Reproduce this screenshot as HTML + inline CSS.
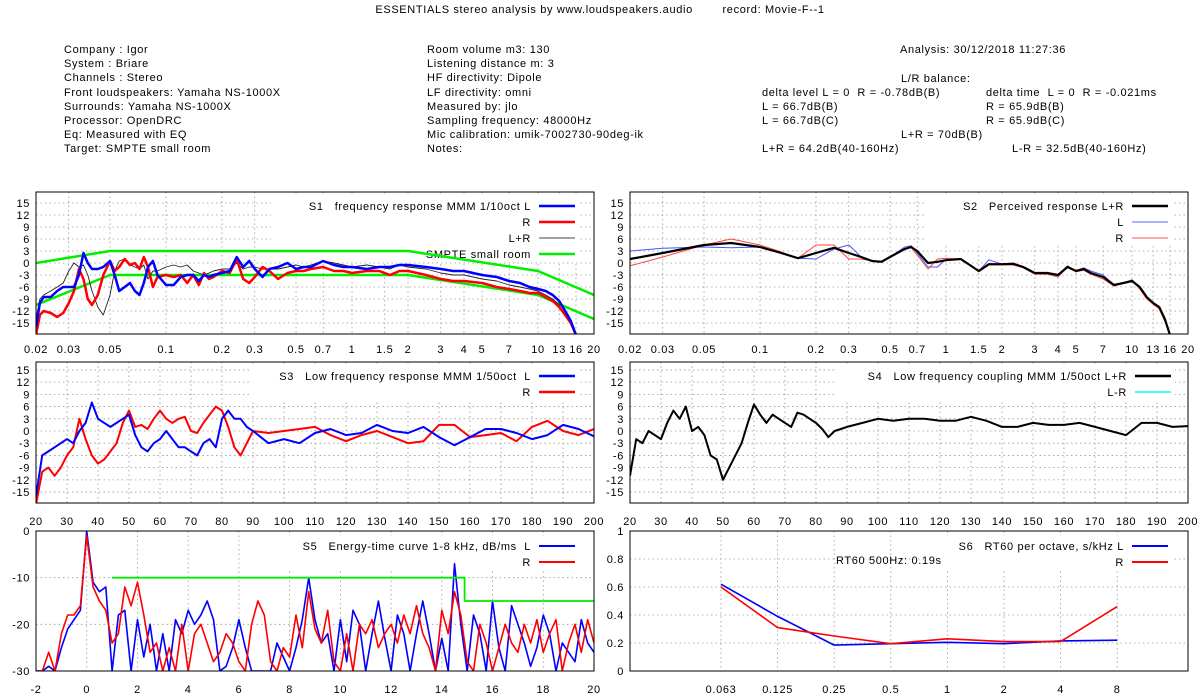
<!DOCTYPE html>
<html><head><meta charset="utf-8"><style>
html,body{margin:0;padding:0;background:#fff}
svg{display:block;font-family:"Liberation Sans",sans-serif}
text{font-size:11px;fill:#000;white-space:pre;letter-spacing:0.65px}
</style></head><body>
<svg id="c" width="1200" height="700" viewBox="0 0 1200 700">
<g>
<text x="600" y="13" text-anchor="middle">ESSENTIALS stereo analysis by www.loudspeakers.audio        record: Movie-F--1</text>
<text x="64" y="53">Company : Igor</text>
<text x="64" y="67">System : Briare</text>
<text x="64" y="81">Channels : Stereo</text>
<text x="64" y="96">Front loudspeakers: Yamaha NS-1000X</text>
<text x="64" y="110">Surrounds: Yamaha NS-1000X</text>
<text x="64" y="124">Processor: OpenDRC</text>
<text x="64" y="138">Eq: Measured with EQ</text>
<text x="64" y="152">Target: SMPTE small room</text>
<text x="427" y="53">Room volume m3: 130</text>
<text x="427" y="67">Listening distance m: 3</text>
<text x="427" y="81">HF directivity: Dipole</text>
<text x="427" y="96">LF directivity: omni</text>
<text x="427" y="110">Measured by: jlo</text>
<text x="427" y="124">Sampling frequency: 48000Hz</text>
<text x="427" y="138">Mic calibration: umik-7002730-90deg-ik</text>
<text x="427" y="152">Notes:</text>
<text x="900" y="53">Analysis: 30/12/2018 11:27:36</text>
<text x="901" y="82">L/R balance:</text>
<text x="762" y="96">delta level L = 0  R = -0.78dB(B)</text>
<text x="986" y="96">delta time  L = 0  R = -0.021ms</text>
<text x="762" y="110">L = 66.7dB(B)</text>
<text x="986" y="110">R = 65.9dB(B)</text>
<text x="762" y="124">L = 66.7dB(C)</text>
<text x="986" y="124">R = 65.9dB(C)</text>
<text x="901" y="138">L+R = 70dB(B)</text>
<text x="762" y="152">L+R = 64.2dB(40-160Hz)</text>
<text x="1012" y="152">L-R = 32.5dB(40-160Hz)</text>
</g>
</svg>
<script>
// ---------- data ----------
const s1Freq=[0.02,0.021,0.022,0.024,0.026,0.028,0.03,0.032,0.034,0.036,0.038,0.04,0.043,0.046,0.05,0.053,0.056,0.06,0.064,0.068,0.072,0.076,0.08,0.085,0.09,0.1,0.11,0.12,0.13,0.14,0.15,0.16,0.17,0.18,0.2,0.22,0.24,0.26,0.28,0.3,0.33,0.36,0.4,0.45,0.5,0.55,0.6,0.7,0.8,0.9,1,1.2,1.4,1.6,1.8,2,2.5,3,3.5,4,5,6,7,8,9,10,11,12,13,14,15,16];
const s1L=[-16,-10,-8.5,-8.5,-7,-6,-6,-6,-3,2.5,0,-1.5,-1.5,-1,0.5,-3,-7,-6,-5,-7,-8,-5,-1,0.5,-3,-5.5,-5.5,-3.5,-3,-3,-4.5,-3,-3.5,-3,-2.5,-2,1.5,-1,0.5,-1.5,-3.5,-1.5,-1,0,-1.5,-1,-1,0.5,-0.5,-1,-1,-1.5,-1,-1,-0.5,-0.5,-1,-1.5,-2,-2,-3,-3.5,-4.5,-5,-6,-6.5,-7,-8,-9.5,-12,-14.5,-18];
const s1R=[-18,-13,-12,-12.5,-13.5,-12.5,-10,-7,-1.5,-4,-9,-10.5,-8,-3,0.5,-2,-1,1,-0.5,0,-1.5,1.5,-1,-6,-3.5,-3,-3.5,-3,-5,-3,-5.5,-2.5,-4,-3.5,-2,-2.5,1,-4,-5,-3.5,-1,-2,-4,-2.5,-2,-2,-1.5,-1,-2,-2,-2.5,-2,-2,-3,-2,-2,-3,-4,-4.5,-4.5,-5,-6,-6.5,-7,-7.5,-7.5,-8.5,-9.5,-11,-13,-15,-18];
const s1LR=[-14,-9,-8,-7,-6,-5,-2,0,-1,-0.5,-3,-7,-11,-13,-8,-2,0.5,1,-0.5,-1,-1.5,-0.5,-4,-2,-2,-1,-0.5,-1,-0.5,-2,-2.5,-3,-2.5,-2,-1.5,-1.5,0,-1.5,-1,-1,-1.5,-1.5,-1.5,-1,-0.5,-1,-0.5,0.5,0,-0.5,-1,-0.5,-1,-1.5,-0.5,-1,-1.5,-2.5,-3,-3,-4,-4.5,-5.5,-6,-6.5,-7,-8,-9,-10.5,-13,-15,-18];
const smpteFreq=[0.02,0.05,2,10,20];
const smpteUpper=[0,3,3,-2,-8];
const smpteLower=[-10.5,-3,-3,-8,-14];
const s2Freq=[0.02,0.03,0.05,0.07,0.1,0.13,0.16,0.2,0.25,0.3,0.35,0.4,0.45,0.5,0.6,0.65,0.7,0.8,0.9,1,1.2,1.5,1.7,2,2.3,2.6,3,3.5,4,4.5,5,5.5,6,7,8,9,10,11,12,13,14,15,16];
const s2LR=[1,2.5,4.5,5,4,2.5,1.2,2.5,3.8,2.5,1.5,0.5,0.3,1.5,3.5,4,3,0,0.3,0.7,1,-2,-0.3,-0.3,-0.2,-1,-2.5,-2.5,-3,-1,-2,-1.5,-2.5,-3.5,-5.5,-5,-4.5,-6,-8.5,-10,-11,-14,-18];
const s2L=[3,3.7,4,3.8,4,2.5,1.2,1,3.5,4.5,1.5,0.5,0.3,1.5,4,4.3,2.5,-1,-1,1,1,-2,0.8,-0.3,0,-1,-2.5,-2.5,-3,-0.7,-2,-1.2,-2,-3,-5.5,-5,-4.2,-6,-8.5,-10,-11,-14,-18];
const s2R=[-0.7,1.5,4.5,6,4.5,2.8,1.2,4.5,4.5,1,1,0.5,0.5,1.5,3.5,3.8,2,-1.5,1,1.2,1,-2.2,-0.5,-0.5,-0.5,-1.2,-2.8,-2.8,-3.5,-1,-2.2,-1.8,-2.8,-4,-5.8,-5,-4.3,-6.5,-9,-10.3,-11.5,-14.5,-18];
const lfFreq=[20,22,24,26,28,30,32,34,36,38,40,42,44,46,48,50,52,54,56,58,60,62,64,66,68,70,72,74,76,78,80,82,84,86,88,90,95,100,105,110,115,120,125,130,135,140,145,150,155,160,165,170,175,180,185,190,195,200];
const s3L=[-16,-6,-5,-4,-3,-2,-3,0,2,7,3,2,1,2,3,4,-1,-4,-5,-3,-2,0,-2,-4,-4,-5,-6,-3,-2,-4,3,5,3,3,1,0,-3,-2,-3,-0.5,0.5,-1,-0.5,1.5,0,-0.5,1,-1.5,-3.5,-1.5,0.5,0.5,-0.5,-2,-1,1.5,0.5,-1.3];
const s3R=[-18,-10,-9,-11,-9,-6,-4,3,-2,-6,-8,-7,-5,-3,2,5,1,1.5,0.5,3,5,3,2,3,3.5,0,-0.5,2,4,6,5,1,-4,-6,-3,0,-0.5,0,0.5,1,-1,-2.5,-1,0,-1.5,-3,-2.5,1.5,1.5,-1.5,-1,-0.5,-2.5,1,2.5,0,-1,0.5];
const s4LR=[-11,-2,-3,0,-1,-2,2,5,3,6,0,1,-1,-6,-7,-12,-9,-6,-3,2,6.5,4,2,4,3,2,1,4.5,4,3,2,0.5,-1.5,0,0.5,1,2,3,2.5,3,3,2.5,2.5,3.5,2.5,1,1,2,1.5,1.5,2,1,0,-1,2,2,1,1.2];
const etcTime=[-2,-1.75,-1.5,-1.25,-1,-0.75,-0.5,-0.25,0,0.25,0.5,0.75,1,1.25,1.5,1.75,2,2.25,2.5,2.75,3,3.25,3.5,3.75,4,4.25,4.5,4.75,5,5.25,5.5,5.75,6,6.25,6.5,6.75,7,7.25,7.5,7.75,8,8.25,8.5,8.75,9,9.25,9.5,9.75,10,10.25,10.5,10.75,11,11.25,11.5,11.75,12,12.25,12.5,12.75,13,13.25,13.5,13.75,14,14.25,14.5,14.75,15,15.25,15.5,15.75,16,16.25,16.5,16.75,17,17.25,17.5,17.75,18,18.25,18.5,18.75,19,19.25,19.5,19.75,20];
const etcL=[-30,-30,-29,-30,-25,-21,-19,-17,0,-11,-13,-12,-30,-18,-17,-30,-19,-27,-20,-30,-22,-30,-19,-22,-17,-20,-18,-15,-19,-30,-29,-25,-19,-25,-30,-30,-30,-30,-24,-27,-30,-25,-19,-10,-19,-24,-22,-30,-19,-28,-17,-20,-30,-22,-15,-23,-30,-18,-22,-30,-22,-15,-22,-30,-23,-30,-7,-20,-30,-18,-22,-30,-15,-25,-30,-16,-20,-24,-29,-25,-18,-22,-30,-24,-26,-28,-19,-24,-26];
const etcR=[-30,-30,-26,-30,-22,-18,-18,-16,-1,-12,-15,-17,-24,-22,-12,-16,-11,-18,-26,-24,-30,-25,-30,-20,-30,-22,-20,-24,-28,-26,-22,-24,-28,-30,-20,-15,-18,-28,-30,-25,-27,-18,-25,-13,-21,-24,-17,-28,-30,-22,-30,-20,-22,-19,-25,-22,-20,-24,-18,-22,-16,-22,-25,-30,-17,-22,-13,-18,-28,-30,-20,-24,-30,-25,-20,-24,-26,-20,-24,-19,-26,-22,-19,-30,-24,-20,-26,-19,-24];
const etcTargetTime=[1,14.9,14.9,20];
const etcTargetDb=[-10,-10,-15,-15];
const rtBands=["0.063","0.125","0.25","0.5","1","2","4","8"];
const rtL=[0.62,0.39,0.185,0.195,0.205,0.195,0.215,0.22];
const rtR=[0.6,0.31,0.25,0.195,0.23,0.21,0.21,0.46];
const logTicks=[0.02,0.03,0.05,0.1,0.2,0.3,0.5,0.7,1,1.5,2,3,4,5,7,10,13,16,20];
const dbTicks=[15,12,9,6,3,0,-3,-6,-9,-12,-15];
const lfTicks=[20,30,40,50,60,70,80,90,100,110,120,130,140,150,160,170,180,190,200];
const etcTicksX=[-2,0,2,4,6,8,10,12,14,16,18,20];
const etcTicksY=[0,-10,-20,-30];
const rtTicksY=[0,0.2,0.4,0.6,0.8,1];

// ---------- helpers ----------
const NS="http://www.w3.org/2000/svg";
const svg=document.getElementById('c');
function mk(tag,attrs,parent){const e=document.createElementNS(NS,tag);for(const k in attrs)e.setAttribute(k,attrs[k]);(parent||svg).appendChild(e);return e;}
let clipId=0;
function panel(name,x0,x1,y0,y1){
  const g=mk('g',{});
  
  
  const id='cp'+(clipId++);
  const cp=mk('clipPath',{id:id},g);mk('rect',{x:x0,y:y0,width:x1-x0,height:y1-y0},cp);
  return {g,x0,x1,y0,y1,clip:'url(#'+id+')'};
}
function gridV(p,x){const l=mk('line',{x1:x,x2:x,y1:p.y0,y2:p.y1,stroke:'#999','stroke-width':0.8,'stroke-dasharray':'1.5,3'},p.g);}
function gridH(p,y){const l=mk('line',{x1:p.x0,x2:p.x1,y1:y,y2:y,stroke:'#999','stroke-width':0.8,'stroke-dasharray':'1.5,3'},p.g);}
function label(p,x,y,txt,anchor,name){const t=mk('text',{x:x,y:y,'text-anchor':anchor},p.g);t.textContent=txt;return t;}
function border(p){const r=mk('rect',{x:p.x0,y:p.y0,width:p.x1-p.x0,height:p.y1-p.y0,fill:'none',stroke:'#000','stroke-width':1},p.g);}
function series(p,xs,ys,fx,fy,color,w,name){
  const pts=xs.map((x,i)=>fx(x).toFixed(1)+','+fy(ys[i]).toFixed(1)).join(' ');
  const l=mk('polyline',{points:pts,fill:'none',stroke:color,'stroke-width':w,'stroke-linejoin':'round','clip-path':p.clip},p.g);
  
  
}
function legend(p,rows,rightX,y0,w){
  const bg=mk('rect',{x:rightX-w,y:y0-10,width:w+48,height:rows.length*16+2,fill:'#fff'},p.g);
  
  rows.forEach((r,i)=>{
    const y=y0+i*16;
    const t=mk('text',{x:rightX,y:y+4,'text-anchor':'end'},p.g);t.textContent=r[0];
    
    const l=mk('line',{x1:rightX+8,x2:rightX+44,y1:y,y2:y,stroke:r[1],'stroke-width':r[2]},p.g);
    
  });
}

// ---------- S1 & S2 (log frequency) ----------
function logPanel(name,x0,x1){
  const p=panel(name,x0,x1,192,334);
  const fx=f=>x0+(Math.log10(f)-Math.log10(0.02))/3*(x1-x0);
  const fy=v=>263-v*4;
  logTicks.forEach(t=>{gridV(p,fx(t));label(p,fx(t),353,String(t),'middle','x-tick-label');});
  dbTicks.forEach(t=>{gridH(p,fy(t));label(p,x0-6,fy(t)+4,String(t),'end','y-tick-label');});
  return {p,fx,fy};
}
const a1=logPanel('panel-s1-frequency-response',36,594);
legend(a1.p,[['S1   frequency response MMM 1/10oct L','#0000ff',2.5],['R','#ff0000',2.5],['L+R','#444',1],['SMPTE small room','#00ee00',2.5]],531,206,260);
series(a1.p,smpteFreq,smpteUpper,a1.fx,a1.fy,'#00ee00',2.5,'smpte-upper-line');
series(a1.p,smpteFreq,smpteLower,a1.fx,a1.fy,'#00ee00',2.5,'smpte-lower-line');
series(a1.p,s1Freq,s1LR,a1.fx,a1.fy,'#222',0.9,'s1-lr-line');
series(a1.p,s1Freq,s1R,a1.fx,a1.fy,'#ff0000',2.5,'s1-r-line');
series(a1.p,s1Freq,s1L,a1.fx,a1.fy,'#0000ff',2.5,'s1-l-line');
border(a1.p);

const a2=logPanel('panel-s2-perceived-response',630,1188);
legend(a2.p,[['S2   Perceived response L+R','#000',2.5],['L','#5566ff',1],['R','#ff5555',1]],1124,206,200);
series(a2.p,s2Freq,s2L,a2.fx,a2.fy,'#4455ff',1,'s2-l-line');
series(a2.p,s2Freq,s2R,a2.fx,a2.fy,'#ff4444',1,'s2-r-line');
series(a2.p,s2Freq,s2LR,a2.fx,a2.fy,'#000',2.2,'s2-lr-line');
border(a2.p);

// ---------- S3 & S4 (low frequency) ----------
function lfPanel(name,x0,x1){
  const p=panel(name,x0,x1,362,503);
  const fx=f=>x0+(f-20)/180*(x1-x0);
  const fy=v=>431-v*4.07;
  lfTicks.forEach(t=>{gridV(p,fx(t));label(p,fx(t),525,String(t),'middle','x-tick-label');});
  dbTicks.forEach(t=>{gridH(p,fy(t));label(p,x0-6,fy(t)+4,String(t),'end','y-tick-label');});
  return {p,fx,fy};
}
const a3=lfPanel('panel-s3-low-frequency-response',36,594);
legend(a3.p,[['S3   Low frequency response MMM 1/50oct  L','#0000ff',2.5],['R','#ff0000',2.5]],531,376,280);
series(a3.p,lfFreq,s3R,a3.fx,a3.fy,'#ff0000',2,'s3-r-line');
series(a3.p,lfFreq,s3L,a3.fx,a3.fy,'#0000ff',2,'s3-l-line');
border(a3.p);

const a4=lfPanel('panel-s4-low-frequency-coupling',630,1188);
legend(a4.p,[['S4   Low frequency coupling MMM 1/50oct L+R','#000',2.5],['L-R','#00ffff',1.5]],1127,376,290);
series(a4.p,lfFreq,s4LR,a4.fx,a4.fy,'#000',2,'s4-lr-line');
border(a4.p);

// ---------- S5 ETC ----------
const p5=panel('panel-s5-energy-time-curve',36,594,531,671);
const fx5=t=>36+(t+2)/22*558;
const fy5=v=>531-v*140/30;
etcTicksX.forEach(t=>{gridV(p5,fx5(t));label(p5,fx5(t),693,String(t),'middle','x-tick-label');});
etcTicksY.forEach(t=>{gridH(p5,fy5(t));label(p5,30,fy5(t)+4,String(t),'end','y-tick-label');});
legend(p5,[['S5   Energy-time curve 1-8 kHz, dB/ms  L','#0000ff',2],['R','#ff0000',2]],531,546,260);
series(p5,etcTime,etcL,fx5,fy5,'#0000ff',1.6,'s5-l-line');
series(p5,etcTime,etcR,fx5,fy5,'#ff0000',1.6,'s5-r-line');
series(p5,etcTargetTime,etcTargetDb,fx5,fy5,'#00ee00',1.8,'s5-target-line');
border(p5);

// ---------- S6 RT60 ----------
const p6=panel('panel-s6-rt60',630,1188,531,671);
const fx6=i=>721+i*56.6;
const fy6=v=>671-v*140;
const idx=rtBands.map((b,i)=>i);
rtBands.forEach((b,i)=>{gridV(p6,fx6(i));label(p6,fx6(i),693,b,'middle','x-tick-label');});
rtTicksY.forEach(t=>{gridH(p6,fy6(t));label(p6,624,fy6(t)+4,String(t),'end','y-tick-label');});
legend(p6,[['S6   RT60 per octave, s/kHz L','#0000ff',2],['R','#ff0000',2]],1124,546,200);
label(p6,836,564,'RT60 500Hz: 0.19s','start','rt60-500hz-annotation');
series(p6,idx,rtL,fx6,fy6,'#0000ff',1.6,'s6-l-line');
series(p6,idx,rtR,fx6,fy6,'#ff0000',1.6,'s6-r-line');
border(p6);
</script>
</body></html>
